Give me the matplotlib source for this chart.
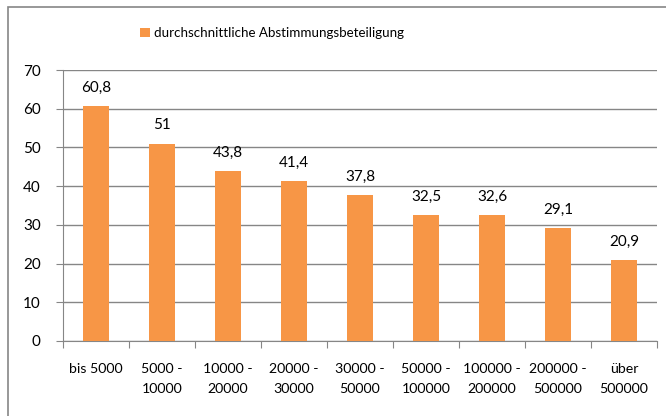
import matplotlib
matplotlib.use("Agg")
import matplotlib.pyplot as plt
import numpy as np

categories = ["bis 5000", "5000 -\n10000", "10000 -\n20000", "20000 -\n30000", "30000 -\n50000",
              "50000 -\n100000", "100000 -\n200000", "200000 -\n500000", "über\n500000"]
values = [60.8, 51, 43.8, 41.4, 37.8, 32.5, 32.6, 29.1, 20.9]
value_labels = ["60,8", "51", "43,8", "41,4", "37,8", "32,5", "32,6", "29,1", "20,9"]
series_name = "durchschnittliche Abstimmungsbeteiligung"
yticks = [0, 10, 20, 30, 40, 50, 60, 70]

plt.rcParams['font.family'] = ['Lato', 'DejaVu Sans']
W, H = 666, 416
fig = plt.figure(figsize=(W/100, H/100), dpi=100)
fig.patch.set_facecolor('white')

# outer chart border
border = plt.Rectangle((8/W, -0.1), 1.2, 1 - 7/H + 0.1, transform=fig.transFigure,
                       fill=False, edgecolor='#868686', linewidth=1.2)
fig.add_artist(border)

left, right = 63/W, 657/W
bottom, top = 1 - 341/H, 1 - 70/H
ax = fig.add_axes([left, bottom, right - left, top - bottom])
color = '#F79646'
x = np.arange(len(categories))
bars = ax.bar(x, values, width=0.4, color=color, label=series_name, zorder=3)
ax.set_xlim(-0.5, len(categories) - 0.5)
ax.set_ylim(0, 70)
ax.set_yticks(yticks)
ax.set_yticklabels([str(t) for t in yticks], fontsize=11)
ax.yaxis.grid(True, color='#868686', linewidth=1)
for s in ['top', 'right']:
    ax.spines[s].set_visible(False)
for s in ['left', 'bottom']:
    ax.spines[s].set_color('#868686')
ax.tick_params(axis='y', length=5, color='#868686', pad=11)
ax.set_xticks(np.arange(len(categories) + 1) - 0.5, minor=False)
ax.set_xticklabels([''] * (len(categories) + 1))
ax.tick_params(axis='x', length=5, color='#868686')
ax.set_xticks(x, minor=True)
ax.set_xticklabels(categories, minor=True, fontsize=10.2, linespacing=1.8)
ax.tick_params(axis='x', which='minor', length=0, pad=16)

for xi, v, lab in zip(x, values, value_labels):
    ax.annotate(lab, (xi, v), xytext=(0, 8), textcoords='offset points',
                ha='center', va='bottom', fontsize=11)

leg = fig.legend(handles=[bars], labels=[series_name], loc='center',
                 bbox_to_anchor=(272/W, 1 - 33/H), frameon=False, fontsize=9.6,
                 handlelength=0.7, handleheight=0.7, handletextpad=0.3)

fig.savefig('out.png', dpi=100)
